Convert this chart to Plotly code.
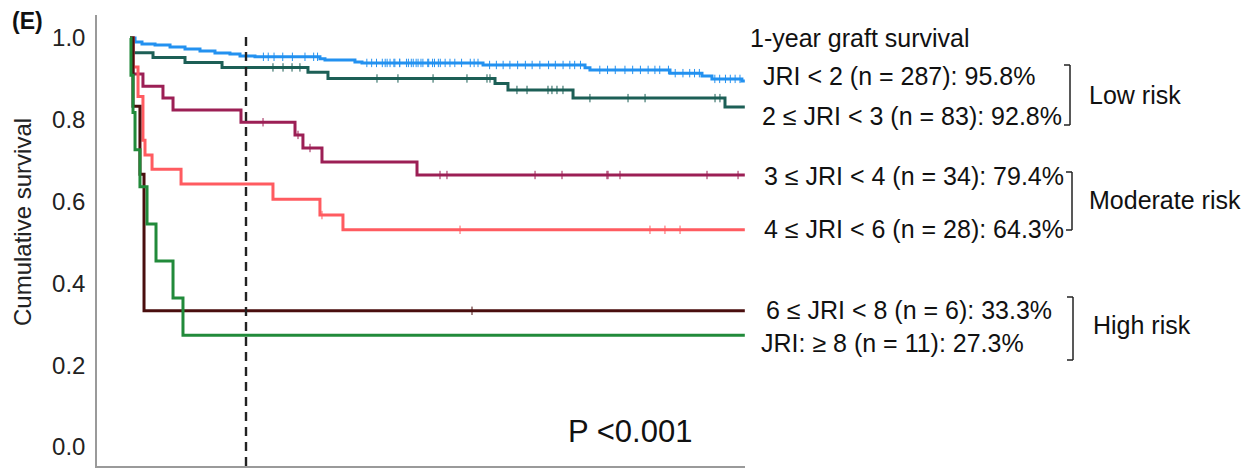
import plotly.graph_objects as go

# ---- data (time in months, cumulative survival) ----
END_TIME = 63.6

blue_t = [0, 0.52, 1.24, 2.59, 4.14, 5.69, 7.24, 8.79, 10.34, 11.38, 12.93, 19.65, 20.17, 23.27, 24.0, 36.52, 47.07, 47.58, 55.86, 59.17, 60.2, 63.3]
blue_s = [1.0, 0.990, 0.985, 0.983, 0.978, 0.973, 0.968, 0.963, 0.961, 0.956, 0.954, 0.949, 0.946, 0.941, 0.939, 0.934, 0.927, 0.922, 0.914, 0.907, 0.900, 0.895]
blue_c = [13.8, 14.3, 14.9, 15.8, 16.8, 18.1, 19.0, 19.4, 24.5, 25.0, 25.5, 26.1, 26.6, 27.3, 27.9, 28.6, 29.1, 29.6, 30.1, 30.9, 31.5, 31.9,
          26.4, 26.9, 27.4, 27.9, 28.8, 29.3, 29.8, 30.3, 30.8, 31.3, 32.1, 32.6, 33.1, 33.6, 34.3, 35.2, 35.6, 36.0,
          37.2, 37.9, 38.6, 39.3, 40.1, 40.9, 41.6, 42.4, 43.3, 44.0, 44.8, 45.5, 46.0, 46.6,
          48.6, 49.4, 50.2, 51.2, 52.0, 52.8, 53.6, 54.3, 54.8, 55.7, 56.4, 57.2, 57.9, 58.4, 58.9,
          60.5, 61.0, 61.6, 62.1, 62.6, 63.1]

teal_t = [0, 0.31, 2.38, 5.69, 9.52, 18.41, 20.48, 37.76, 39.10, 45.83, 61.55]
teal_s = [1.0, 0.964, 0.952, 0.940, 0.928, 0.916, 0.901, 0.889, 0.873, 0.853, 0.831]
teal_c = [14.79, 15.83, 16.76, 17.58, 25.55, 27.72, 31.35, 34.86, 36.93, 37.24, 40.03, 41.07, 43.24, 43.65, 44.17, 44.79, 47.58, 51.52, 53.28, 60.52, 61.03]

maroon_t = [0, 0.31, 1.34, 3.41, 4.45, 11.48, 17.07, 17.89, 19.86, 29.69]
maroon_s = [1.0, 0.912, 0.882, 0.853, 0.824, 0.794, 0.763, 0.731, 0.697, 0.665]
maroon_c = [13.76, 17.38, 18.62, 32.07, 32.79, 41.90, 44.69, 49.34, 49.45, 50.69, 59.69, 62.90]

red_t = [0, 0.31, 0.83, 1.34, 1.55, 2.28, 5.28, 14.79, 19.65, 22.03]
red_s = [1.0, 0.929, 0.857, 0.750, 0.714, 0.679, 0.643, 0.606, 0.567, 0.531]
red_c = [19.86, 34.14, 53.79, 55.34, 56.90]

dred_t = [0, 0.31, 1.03, 1.45]
dred_s = [1.0, 0.833, 0.667, 0.333]
dred_c = [35.38]

green_t = [0, 0.10, 0.31, 0.52, 1.03, 1.76, 2.69, 4.45, 5.48]
green_s = [1.0, 0.909, 0.818, 0.727, 0.636, 0.545, 0.455, 0.364, 0.273]
green_c = []

group_labels = ["JRI < 2 (n = 287): 95.8%", "2 ≤ JRI < 3 (n = 83): 92.8%",
                "3 ≤ JRI < 4 (n = 34): 79.4%", "4 ≤ JRI < 6 (n = 28): 64.3%",
                "6 ≤ JRI < 8 (n = 6): 33.3%", "JRI: ≥ 8 (n = 11): 27.3%"]
risk_labels = ["Low risk", "Moderate risk", "High risk"]
y_ticks = [0.0, 0.2, 0.4, 0.6, 0.8, 1.0]
landmark = 12

series = [
    (blue_t, blue_s, blue_c, "#2391F0"),
    (teal_t, teal_s, teal_c, "#1C5F56"),
    (maroon_t, maroon_s, maroon_c, "#9C1F55"),
    (red_t, red_s, red_c, "#FF5B60"),
    (dred_t, dred_s, dred_c, "#4A0E0E"),
    (green_t, green_s, green_c, "#218A3A"),
]

def surv_at(t, ts, ss):
    v = ss[0]
    for ti, si in zip(ts, ss):
        if ti <= t:
            v = si
    return v

fig = go.Figure()
for ts, ss, cs, col in series:
    fig.add_trace(go.Scatter(x=ts + [END_TIME], y=ss + [ss[-1]], mode="lines",
                             line=dict(color=col, width=3, shape="hv"),
                             showlegend=False, hoverinfo="skip"))
    if cs:
        fig.add_trace(go.Scatter(x=cs, y=[surv_at(c, ts, ss) for c in cs], mode="markers",
                                 marker=dict(symbol="line-ns", size=6, line=dict(color=col, width=1)),
                                 showlegend=False, hoverinfo="skip"))

# page-pixel helpers (plot area on page: x 97..745, y 15..466)
def PX(x):
    return (x - 97) / 648.0

def PY(y):
    return (466 - y) / 451.0

FONT = "Liberation Sans, Arial, sans-serif"
TS = 25
ann = []
ann.append(dict(text="<b>(E)</b>", x=PX(10), y=PY(21), xanchor="left", yanchor="middle",
                font=dict(size=23, color="#111")))
ann.append(dict(text="Cumulative survival", x=PX(22), y=PY(222), textangle=-90,
                xanchor="center", yanchor="middle", font=dict(size=24, color="#222")))
ann.append(dict(text="1-year graft survival", x=PX(748), y=PY(38), xanchor="left", yanchor="middle",
                font=dict(size=TS, color="#111")))
label_pos = [(761, 76), (760, 116), (762, 176), (762, 229), (764, 310), (759, 343)]
for txt, (lx, ly) in zip(group_labels, label_pos):
    ann.append(dict(text=txt, x=PX(lx), y=PY(ly), xanchor="left", yanchor="middle",
                    font=dict(size=TS, color="#111")))
risk_pos = [(1087, 95), (1087, 200), (1091, 325)]
for txt, (lx, ly) in zip(risk_labels, risk_pos):
    ann.append(dict(text=txt, x=PX(lx), y=PY(ly), xanchor="left", yanchor="middle",
                    font=dict(size=TS, color="#111")))
ann.append(dict(text="P <0.001", x=PX(566), y=PY(431), xanchor="left", yanchor="middle",
                font=dict(size=31, color="#111")))
for a in ann:
    a.update(xref="paper", yref="paper", showarrow=False)

shapes = []
shapes.append(dict(type="line", xref="x", yref="paper", x0=landmark, x1=landmark, y0=0, y1=PY(32),
                   line=dict(color="#222", width=2.4, dash="9px,6px")))
for bx, y0, y1 in [(1070, 65, 125), (1072, 172, 230), (1073, 297, 360)]:
    for seg in [(bx, y0, bx, y1), (bx - 6, y0, bx, y0), (bx - 6, y1, bx, y1)]:
        shapes.append(dict(type="line", xref="paper", yref="paper",
                           x0=PX(seg[0]), y0=PY(seg[1]), x1=PX(seg[2]), y1=PY(seg[3]),
                           line=dict(color="#222", width=1.5)))

# page has an 8px body margin; figure is sized/margined so the plot area lands at the target pixels
fig.update_layout(
    width=1251, height=462,
    margin=dict(l=89, r=514, t=7, b=4),
    paper_bgcolor="white", plot_bgcolor="white",
    font=dict(family=FONT, color="#111"),
    annotations=ann, shapes=shapes,
    xaxis=dict(range=[-3.414, 63.62], showgrid=False, zeroline=False, showticklabels=False,
               ticks="", showline=True, linecolor="#9a9a9a", linewidth=1.5),
    yaxis=dict(range=[-0.0465, 1.0562], showgrid=False, zeroline=False, tickvals=y_ticks,
               ticktext=[f"{v:.1f}" for v in y_ticks], ticks="", ticklabelstandoff=5,
               tickfont=dict(size=24, color="#222"),
               showline=True, linecolor="#9a9a9a", linewidth=1.5),
)

fig.write_html("out.html")
